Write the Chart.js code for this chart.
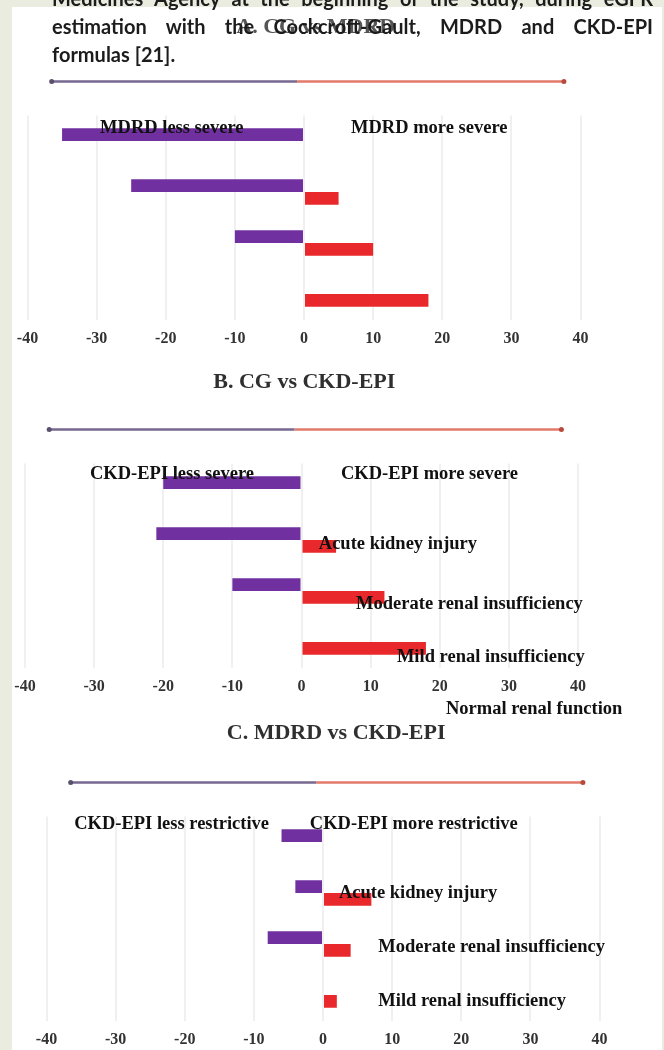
<!DOCTYPE html>
<html>
<head>
<meta charset="utf-8">
<script src="https://cdn.jsdelivr.net/npm/chart.js@4.4.1/dist/chart.umd.min.js"></script>
<style>
  html, body { margin: 0; padding: 0; }
  body { width: 664px; height: 1050px; background: #e9ecdf; position: relative; overflow: hidden; }
  #sheet { position: absolute; left: 12px; top: 7px; width: 650px; height: 1043px; background: #fff; }
  canvas { position: absolute; left: 0; }
  #caption { position: absolute; left: 52px; top: -16px; width: 601px; z-index: 2;
    font-family: Lato, sans-serif; font-weight: 700; font-size: 20px; line-height: 28px; color: #1c1c1c; }
  #caption div { white-space: nowrap; text-align: justify; text-align-last: justify; }
  #caption div.last { text-align-last: left; }
</style>
</head>
<body>
<div id="sheet"></div>
<canvas id="chartA" width="664" height="360" style="top:0px"></canvas>
<canvas id="chartB" width="664" height="380" style="top:350px"></canvas>
<canvas id="chartC" width="664" height="356" style="top:705px"></canvas>
<div id="caption">
  <div>Medicines Agency at the beginning of the study, during eGFR</div>
  <div>estimation with the Cockcroft-Gault, MDRD and CKD-EPI</div>
  <div class="last">formulas [21].</div>
</div>
<script>
// data (percent of patients reclassified)
const categories = ["Acute kidney injury", "Moderate renal insufficiency", "Mild renal insufficiency", "Normal renal function"];
const xTicks = [-40, -30, -20, -10, 0, 10, 20, 30, 40];

const cgMdrdLess = [-35, -25, -10, 0];
const cgMdrdMore = [0, 5, 10, 18];
const cgCkdLess = [-20, -21, -10, 0];
const cgCkdMore = [0, 5, 12, 18];
const mdrdCkdLess = [-6, -4, -8, 0];
const mdrdCkdMore = [0, 7, 4, 2];

const PURPLE = "#7030a0";
const RED = "#e8282a";
const AXIS_H = 39.2; // tick padding*2 + label line height

// placement of each panel on the page, and of its free text
const panels = [
  {
    id: "chartA", title: "A. CG vs MDRD", less: cgMdrdLess, more: cgMdrdMore,
    sides: ["MDRD less severe", "MDRD more severe"],
    top: 0, height: 360, area: [27.5, 580.5, 115.5, 319.5],
    titleAt: [1.7, -88.5], titleColor: "rgba(55,55,55,0.85)",
    sideAt: [[-29.5, -0.26], [6.8, -0.26]], catAt: []
  },
  {
    id: "chartB", title: "B. CG vs CKD-EPI", less: cgCkdLess, more: cgCkdMore,
    sides: ["CKD-EPI less severe", "CKD-EPI more severe"],
    top: 350, height: 380, area: [25, 578, 463.5, 667.5],
    titleAt: [0.4, -81.5], titleColor: "#2f2f2f",
    sideAt: [[-30.6, -0.29], [5.7, -0.29]],
    catAt: [[2.5, 1.08], [7.9, 2.25], [13.8, 3.29], [20.9, 4.31]]
  },
  {
    id: "chartC", title: "C. MDRD vs CKD-EPI", less: mdrdCkdLess, more: mdrdCkdMore,
    sides: ["CKD-EPI less restrictive", "CKD-EPI more restrictive"],
    top: 705, height: 356, area: [46.5, 599.5, 816.5, 1020.5],
    titleAt: [1.9, -83.5], titleColor: "#2f2f2f",
    sideAt: [[-36, -0.35], [-1.9, -0.35]],
    catAt: [[2.3, 1.0], [8, 2.06], [8, 3.12]]
  }
];

// title, two-colour arrow line and the text boxes pasted on the figure
const panelDecor = {
  id: "panelDecor",
  afterDatasetsDraw(chart, args, opts) {
    const p = opts.panel;
    const { ctx, chartArea } = chart;
    const x = chart.scales.x, y = chart.scales.y;
    ctx.save();

    ctx.font = 'bold 22px "Liberation Serif"';
    ctx.fillStyle = p.titleColor;
    ctx.textAlign = "center";
    ctx.textBaseline = "middle";
    ctx.fillText(p.title, x.getPixelForValue(p.titleAt[0]), chartArea.top + p.titleAt[1]);

    const ly = chartArea.top - 34;
    const x0 = x.getPixelForValue(-36.5), xm = x.getPixelForValue(-1), x1 = x.getPixelForValue(37.6);
    ctx.lineWidth = 2.5;
    ctx.strokeStyle = "#76698f";
    ctx.beginPath(); ctx.moveTo(x0, ly); ctx.lineTo(xm, ly); ctx.stroke();
    ctx.strokeStyle = "#e27a6a";
    ctx.beginPath(); ctx.moveTo(xm, ly); ctx.lineTo(x1, ly); ctx.stroke();
    ctx.fillStyle = "#5b4f6e";
    ctx.beginPath(); ctx.arc(x0, ly, 2.5, 0, Math.PI * 2); ctx.fill();
    ctx.fillStyle = "#b84a3c";
    ctx.beginPath(); ctx.arc(x1, ly, 2.5, 0, Math.PI * 2); ctx.fill();

    ctx.font = 'bold 18.5px "Liberation Serif"';
    ctx.fillStyle = "#111";
    ctx.textAlign = "left";
    p.sides.forEach((t, i) => {
      ctx.fillText(t, x.getPixelForValue(p.sideAt[i][0]), y.getPixelForValue(p.sideAt[i][1]));
    });
    p.catAt.forEach((pos, i) => {
      ctx.fillText(categories[i], x.getPixelForValue(pos[0]), y.getPixelForValue(pos[1]));
    });
    ctx.restore();
  }
};

panels.forEach(p => {
  const [left, right, top, bottom] = p.area;
  new Chart(document.getElementById(p.id), {
    type: "bar",
    data: {
      labels: categories,
      datasets: [
        { label: "less", data: p.less, backgroundColor: PURPLE },
        { label: "more", data: p.more, backgroundColor: RED }
      ]
    },
    options: {
      indexAxis: "y",
      responsive: false,
      animation: false,
      categoryPercentage: 0.5,
      barPercentage: 1.0,
      layout: {
        padding: {
          left: left,
          right: 664 - right,
          top: top - p.top,
          bottom: p.height - (bottom - p.top) - AXIS_H
        }
      },
      scales: {
        x: {
          min: -40,
          max: 40,
          afterBuildTicks: s => { s.ticks = xTicks.map(v => ({ value: v })); },
          grid: { color: "#f0f0f0", lineWidth: 2, drawTicks: false },
          border: { display: false },
          ticks: {
            padding: 10,
            color: "#333333",
            font: { family: '"Liberation Serif"', size: 16, weight: "bold" }
          }
        },
        y: { display: false }
      },
      plugins: {
        legend: { display: false },
        tooltip: { enabled: false },
        panelDecor: { panel: p }
      }
    },
    plugins: [panelDecor]
  });
});
</script>
</body>
</html>
